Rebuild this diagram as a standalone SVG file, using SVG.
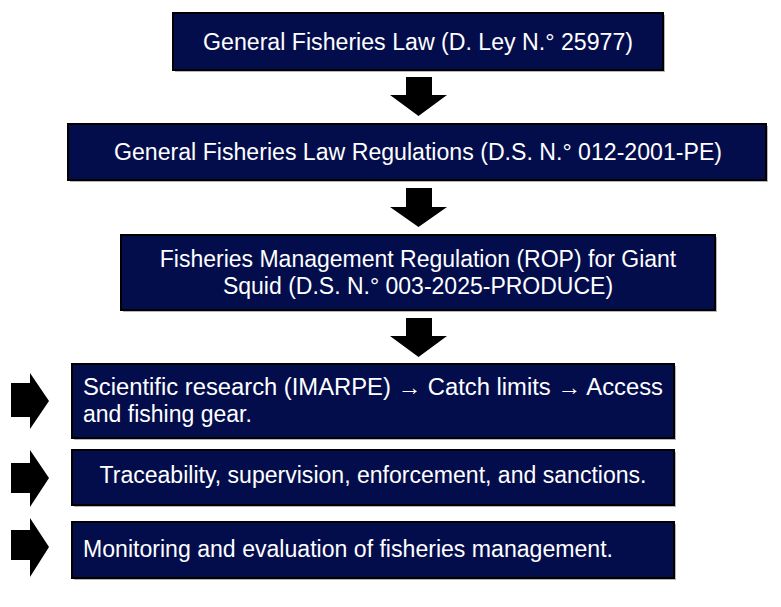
<svg xmlns="http://www.w3.org/2000/svg" width="781" height="607" viewBox="0 0 781 607">
  <style>
    .box { fill: #030d4c; stroke: #000000; stroke-width: 2; }
    .shadow { fill: #b5b5b5; }
    .txt { fill: #ffffff; font-family: "Liberation Sans", Arial, sans-serif; font-size: 23px; }
    .mid { text-anchor: middle; }
    .arrow { fill: #000000; }
  </style>
  <rect x="0" y="0" width="781" height="607" fill="#ffffff"/>

  <g id="connectors">
    <path class="arrow" d="M406,77 H432 V95 H447 L418.5,116 L390,95 H406 Z"/>
    <path class="arrow" d="M406,188 H432 V207 H447 L418.5,227 L390,207 H406 Z"/>
    <path class="arrow" d="M406,318 H432 V336 H447 L418.5,357 L390,336 H406 Z"/>
    <path class="arrow" d="M11,383 H30 V373 L49,401 L30,429 V417 H11 Z"/>
    <path class="arrow" d="M11,463 H30 V450 L49,478 L30,507 V493 H11 Z"/>
    <path class="arrow" d="M11,530 H30 V518 L49,547 L30,577 V560 H11 Z"/>
  </g>

  <g id="node-law">
    <rect class="shadow" x="175" y="15" width="490" height="57"/>
    <rect class="box" x="173" y="13" width="490" height="57"/>
    <text class="txt mid" x="418" y="50" textLength="430" lengthAdjust="spacingAndGlyphs">General Fisheries Law (D. Ley N.° 25977)</text>
  </g>

  <g id="node-regulations">
    <rect class="shadow" x="70" y="126" width="698" height="56"/>
    <rect class="box" x="68" y="124" width="698" height="56"/>
    <text class="txt mid" x="418" y="160" textLength="608" lengthAdjust="spacingAndGlyphs">General Fisheries Law Regulations (D.S. N.° 012-2001-PE)</text>
  </g>

  <g id="node-rop">
    <rect class="shadow" x="123" y="237" width="594" height="75"/>
    <rect class="box" x="121" y="235" width="594" height="75"/>
    <text class="txt mid" x="418" y="267">Fisheries Management Regulation (ROP) for Giant</text>
    <text class="txt mid" x="418" y="294">Squid (D.S. N.° 003-2025-PRODUCE)</text>
  </g>

  <g id="node-research">
    <rect class="shadow" x="74" y="366" width="602" height="74"/>
    <rect class="box" x="72" y="364" width="602" height="74"/>
    <text class="txt" x="83" y="395" textLength="580" lengthAdjust="spacingAndGlyphs">Scientific research (IMARPE) → Catch limits → Access</text>
    <text class="txt" x="83" y="422">and fishing gear.</text>
  </g>

  <g id="node-traceability">
    <rect class="shadow" x="74" y="452" width="602" height="55"/>
    <rect class="box" x="72" y="450" width="602" height="55"/>
    <text class="txt mid" x="373" y="483" textLength="547" lengthAdjust="spacingAndGlyphs">Traceability, supervision, enforcement, and sanctions.</text>
  </g>

  <g id="node-monitoring">
    <rect class="shadow" x="74" y="524" width="602" height="56"/>
    <rect class="box" x="72" y="522" width="602" height="56"/>
    <text class="txt" x="83" y="557" textLength="530" lengthAdjust="spacingAndGlyphs">Monitoring and evaluation of fisheries management.</text>
  </g>
</svg>
